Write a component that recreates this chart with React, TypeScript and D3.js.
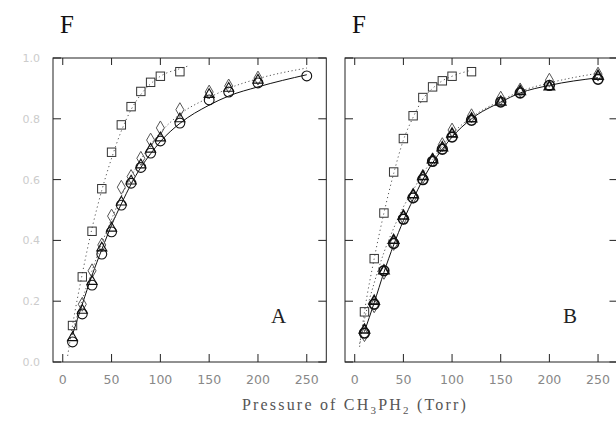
import React from "react";
import * as d3 from "d3";

const xTicks = [0, 50, 100, 150, 200, 250];
const yTicks = [0, 0.2, 0.4, 0.6, 0.8, 1.0];
const yTickLabels = ["0.0", "0.2", "0.4", "0.6", "0.8", "1.0"];

// Panel A
const pressA = [10, 20, 30, 40, 50, 60, 70, 80, 90, 100, 120, 150, 170, 200, 250];
const circlesA = [0.066, 0.158, 0.253, 0.355, 0.428, 0.516, 0.588, 0.64, 0.687, 0.727, 0.786, 0.862, 0.888, 0.918, 0.941];
const triPressA = [10, 20, 30, 40, 50, 60, 70, 80, 90, 100, 120, 150, 170, 200];
const trianglesA = [0.08, 0.17, 0.265, 0.375, 0.44, 0.526, 0.595, 0.648, 0.70, 0.737, 0.80, 0.88, 0.90, 0.927];
const diaPressA = [20, 30, 40, 50, 60, 70, 80, 90, 100, 120, 150, 170, 200];
const diamondsA = [0.19, 0.30, 0.385, 0.48, 0.575, 0.61, 0.67, 0.73, 0.77, 0.83, 0.888, 0.908, 0.934];
const sqPressA = [10, 20, 30, 40, 50, 60, 70, 80, 90, 100, 120];
const squaresA = [0.12, 0.28, 0.43, 0.57, 0.69, 0.78, 0.84, 0.89, 0.92, 0.94, 0.955];

const fitPressA = [10, 20, 30, 40, 50, 60, 70, 80, 90, 100, 120, 150, 170, 200, 250];
const solidFitA = [0.09, 0.19, 0.285, 0.37, 0.45, 0.52, 0.585, 0.64, 0.685, 0.725, 0.785, 0.845, 0.875, 0.905, 0.945];
const dotFitA = [0.10, 0.205, 0.30, 0.39, 0.47, 0.545, 0.61, 0.665, 0.715, 0.755, 0.815, 0.87, 0.90, 0.932, 0.967];
const sqFitPressA = [5, 10, 20, 30, 40, 50, 60, 70, 80, 90, 100, 120, 130];
const sqFitA = [0.02, 0.12, 0.29, 0.44, 0.565, 0.67, 0.76, 0.83, 0.88, 0.915, 0.94, 0.965, 0.975];

// Panel B
const pressB = [10, 20, 30, 40, 50, 60, 70, 80, 90, 100, 120, 150, 170, 200, 250];
const circlesB = [0.095, 0.19, 0.30, 0.39, 0.47, 0.54, 0.60, 0.66, 0.70, 0.74, 0.795, 0.855, 0.885, 0.91, 0.93];
const trianglesB = [0.105, 0.20, 0.30, 0.40, 0.48, 0.55, 0.61, 0.665, 0.705, 0.75, 0.80, 0.855, 0.89, 0.905, 0.94];
const diamondsB = [0.09, 0.185, 0.295, 0.39, 0.475, 0.545, 0.61, 0.665, 0.715, 0.763, 0.81, 0.868, 0.895, 0.927, 0.947];
const sqPressB = [10, 20, 30, 40, 50, 60, 70, 80, 90, 100, 120];
const squaresB = [0.165, 0.34, 0.49, 0.625, 0.735, 0.81, 0.87, 0.905, 0.925, 0.94, 0.955];

const solidFitB = [0.10, 0.195, 0.295, 0.385, 0.465, 0.535, 0.60, 0.655, 0.70, 0.74, 0.80, 0.855, 0.885, 0.91, 0.935];
const dotFitPressB = [5, 10, 20, 30, 40, 50, 60, 70, 80, 90, 100, 120, 150, 170, 200, 250];
const dotFitB = [0.06, 0.14, 0.26, 0.36, 0.44, 0.51, 0.565, 0.62, 0.665, 0.71, 0.75, 0.805, 0.86, 0.89, 0.918, 0.95];
const sqFitPressB = [5, 10, 20, 30, 40, 50, 60, 70, 80, 90, 100, 120];
const sqFitB = [0.05, 0.165, 0.34, 0.49, 0.62, 0.73, 0.805, 0.865, 0.90, 0.925, 0.94, 0.96];

const zip = (xs: number[], ys: number[]) => xs.map((x, i) => [x, ys[i]] as [number, number]);

type PanelProps = {
  left: number;
  right: number;
  letter: string;
  showY: boolean;
  bold: boolean;
  circles: [number, number][];
  triangles: [number, number][];
  diamonds: [number, number][];
  squares: [number, number][];
  solid: [number, number][];
  dot: [number, number][];
  sqFit: [number, number][];
};

const TOP = 58;
const BOTTOM = 362;

function Panel(p: PanelProps) {
  const x = d3.scaleLinear().domain([-10, 270]).range([p.left, p.right]);
  const y = d3.scaleLinear().domain([0, 1]).range([BOTTOM, TOP]);
  const line = d3
    .line<[number, number]>()
    .x((d) => x(d[0]))
    .y((d) => y(d[1]))
    .curve(d3.curveMonotoneX);
  const tri = d3.symbol().type(d3.symbolTriangle).size(44)()!;
  const dia = d3.symbol().type(d3.symbolDiamond).size(56)()!;
  const sw = p.bold ? 1.6 : 1.1;
  return (
    <g>
      <rect x={p.left} y={TOP} width={p.right - p.left} height={BOTTOM - TOP} fill="none" stroke="#222" strokeWidth={1} />
      {xTicks.map((t) => (
        <g key={"xt" + t}>
          <line x1={x(t)} x2={x(t)} y1={BOTTOM} y2={BOTTOM - 8} stroke="#222" />
          <line x1={x(t)} x2={x(t)} y1={TOP} y2={TOP + 7} stroke="#222" />
          <text x={x(t)} y={384} textAnchor="middle" fontFamily="DejaVu Sans, sans-serif" fontSize={12.5} fill="#888">
            {t}
          </text>
        </g>
      ))}
      {yTicks.map((t, i) => (
        <g key={"yt" + t}>
          <line x1={p.left} x2={p.left + 8} y1={y(t)} y2={y(t)} stroke="#222" />
          <line x1={p.right} x2={p.right - 8} y1={y(t)} y2={y(t)} stroke="#222" />
          {p.showY && (
            <text x={40} y={y(t) + 4} textAnchor="end" fontFamily="DejaVu Sans, sans-serif" fontSize={11} fill="#cccccc">
              {yTickLabels[i]}
            </text>
          )}
        </g>
      ))}
      <path d={line(p.sqFit)!} fill="none" stroke="#555" strokeWidth={1} strokeDasharray="1.2,3" />
      <path d={line(p.dot)!} fill="none" stroke="#555" strokeWidth={1} strokeDasharray="1.2,2.5" />
      <path d={line(p.solid)!} fill="none" stroke="#111" strokeWidth={1} />
      {p.squares.map((d, i) => (
        <rect key={"s" + i} x={x(d[0]) - 4.2} y={y(d[1]) - 4.2} width={8.4} height={8.4} fill="none" stroke="#333" strokeWidth={1} />
      ))}
      {p.diamonds.map((d, i) => (
        <path key={"d" + i} d={dia} transform={`translate(${x(d[0])},${y(d[1])})`} fill="none" stroke="#555" strokeWidth={1} />
      ))}
      {p.circles.map((d, i) => (
        <circle key={"c" + i} cx={x(d[0])} cy={y(d[1])} r={4.9} fill="none" stroke="#111" strokeWidth={sw} />
      ))}
      {p.triangles.map((d, i) => (
        <path key={"t" + i} d={tri} transform={`translate(${x(d[0])},${y(d[1])})`} fill="none" stroke="#111" strokeWidth={sw} />
      ))}
      <text x={p.left + 7} y={33} fontFamily="Liberation Serif, DejaVu Serif, serif" fontSize={25} fill="#111">
        F
      </text>
      <text x={p.left + 218} y={323} fontFamily="Liberation Serif, DejaVu Serif, serif" fontSize={21} fill="#222">
        {p.letter}
      </text>
    </g>
  );
}

export default function App() {
  return (
    <svg width={616} height={431} style={{ position: "absolute", left: 0, top: 0, background: "#fff" }}>
      <rect x={0} y={0} width={616} height={431} fill="#fff" />
      <Panel
        left={53}
        right={326.3}
        letter="A"
        showY={true}
        bold={false}
        circles={zip(pressA, circlesA)}
        triangles={zip(triPressA, trianglesA)}
        diamonds={zip(diaPressA, diamondsA)}
        squares={zip(sqPressA, squaresA)}
        solid={zip(fitPressA, solidFitA)}
        dot={zip(fitPressA, dotFitA)}
        sqFit={zip(sqFitPressA, sqFitA)}
      />
      <Panel
        left={345}
        right={617.5}
        letter="B"
        showY={false}
        bold={true}
        circles={zip(pressB, circlesB)}
        triangles={zip(pressB, trianglesB)}
        diamonds={zip(pressB, diamondsB)}
        squares={zip(sqPressB, squaresB)}
        solid={zip(pressB, solidFitB)}
        dot={zip(dotFitPressB, dotFitB)}
        sqFit={zip(sqFitPressB, sqFitB)}
      />
      <text
        x={355}
        y={410}
        textAnchor="middle"
        fontFamily="Liberation Serif, DejaVu Serif, serif"
        fontSize={16}
        fill="#555"
        letterSpacing={2.2}
      >
        Pressure of CH
        <tspan fontSize={11} dy={4}>3</tspan>
        <tspan dy={-4}>PH</tspan>
        <tspan fontSize={11} dy={4}>2</tspan>
        <tspan dy={-4}> (Torr)</tspan>
      </text>
    </svg>
  );
}
